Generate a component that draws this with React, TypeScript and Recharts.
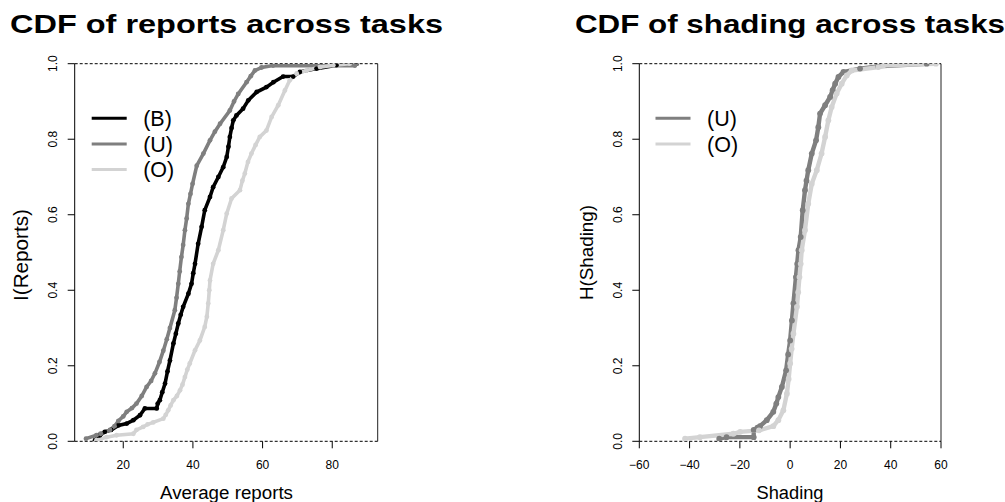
import React from 'react';
import { LineChart, Line, XAxis, YAxis, ReferenceLine } from 'recharts';

// ECDF readings [value, cumulative share] for each group
const reportsB: [number, number][] = [
  [11.9, 0.003], [13.3, 0.016], [14.7, 0.025], [16.5, 0.03], [18.6, 0.042], [21, 0.047],
  [22.9, 0.056], [24.8, 0.069], [26.2, 0.087], [29.6, 0.087], [29.9, 0.1], [30.5, 0.109], [31.2, 0.13],
  [32, 0.153], [32.7, 0.185], [33.4, 0.214], [34.4, 0.259], [35.1, 0.285], [35.8, 0.312],
  [36.5, 0.335], [37.2, 0.356], [38.7, 0.391], [39.6, 0.417], [40.1, 0.445], [40.6, 0.47],
  [41.5, 0.523], [42.5, 0.568], [43.4, 0.612], [44.9, 0.647], [45.8, 0.673], [47.3, 0.7],
  [48.7, 0.726], [49.7, 0.753], [50.2, 0.78], [50.6, 0.806], [51.1, 0.83], [51.6, 0.85],
  [52.5, 0.863], [54.4, 0.881], [55.9, 0.903], [58.3, 0.925], [61.1, 0.938], [63.1, 0.951],
  [65.9, 0.966], [68.8, 0.966], [70.7, 0.978], [75.5, 0.987], [81.2, 0.996], [87, 1.0],
];
const reportsU: [number, number][] = [
  [9.3, 0.007], [12.3, 0.016], [13.5, 0.02], [16.2, 0.03], [17.5, 0.04], [18.6, 0.054],
  [20, 0.066], [21, 0.078], [22.5, 0.088], [23.8, 0.1], [25.3, 0.12], [26.7, 0.144],
  [28, 0.16], [29.1, 0.18], [30.4, 0.21], [31.5, 0.24], [32.5, 0.27], [33.4, 0.3],
  [34.8, 0.347], [35.3, 0.38], [35.8, 0.417], [36.2, 0.45], [36.7, 0.488], [37.2, 0.52],
  [37.7, 0.559], [38.2, 0.59], [38.7, 0.629], [39.3, 0.655], [39.9, 0.682], [41.1, 0.73],
  [43, 0.762], [44.9, 0.797], [46.3, 0.82], [47.8, 0.841], [50.6, 0.876], [51.8, 0.9],
  [53, 0.92], [55.4, 0.951], [56.6, 0.967], [57.8, 0.982], [59.7, 0.99], [63, 0.995],
  [86.5, 0.995], [87, 1.0],
];
const reportsO: [number, number][] = [
  [12.3, 0.003], [15.2, 0.011], [18.1, 0.016], [22.9, 0.02], [23.8, 0.03], [25.7, 0.038],
  [27, 0.045], [28.6, 0.05], [31.5, 0.06], [32.2, 0.07], [32.9, 0.082], [33.6, 0.095],
  [34.4, 0.109], [35.4, 0.12], [36.3, 0.135], [37, 0.15], [37.7, 0.17], [38.4, 0.19],
  [39.1, 0.206], [40.6, 0.241], [42, 0.267], [43.4, 0.303], [44, 0.33], [44.4, 0.365],
  [44.7, 0.4], [44.9, 0.426], [45.8, 0.47], [47.3, 0.506], [48.7, 0.559], [49.7, 0.603],
  [51.1, 0.643], [53.5, 0.665], [54.2, 0.69], [54.9, 0.709], [55.8, 0.74], [56.8, 0.762],
  [58, 0.785], [59.2, 0.806], [61.1, 0.823], [62.6, 0.859], [64.5, 0.89], [66.4, 0.929],
  [67.8, 0.956], [69.8, 0.974], [72.6, 0.982], [76.5, 0.991], [80.3, 0.996], [85, 1.0],
];

const shadingU: [number, number][] = [
  [-28.2, 0.007], [-25.3, 0.011], [-14.5, 0.011], [-14.5, 0.03], [-13, 0.036], [-12, 0.04], [-9.3, 0.056],
  [-6.7, 0.078], [-5.5, 0.1], [-4.7, 0.117], [-3.3, 0.144], [-1.6, 0.188], [-0.8, 0.23],
  [0, 0.267], [0.7, 0.32], [1.3, 0.365], [2.3, 0.435], [2.8, 0.47], [3.3, 0.506],
  [4.2, 0.541], [5, 0.612], [5.9, 0.665], [6.5, 0.69], [7.2, 0.718], [8.6, 0.762],
  [10.3, 0.797], [11.2, 0.832], [11.9, 0.868], [13.9, 0.89], [15.9, 0.912], [16.9, 0.93],
  [17.9, 0.947], [19.2, 0.965], [21.2, 0.978], [27.8, 0.987], [35, 0.993], [54.3, 1.0],
];
const shadingO: [number, number][] = [
  [-41.8, 0.007], [-35.9, 0.011], [-22.6, 0.02], [-19.9, 0.025], [-12.4, 0.029], [-6.7, 0.04],
  [-4.7, 0.056], [-2.7, 0.082], [-1.3, 0.126], [-0.6, 0.165], [0, 0.206], [0.6, 0.245],
  [1.3, 0.285], [2.7, 0.356], [3.2, 0.395], [3.7, 0.435], [4.2, 0.47], [4.6, 0.506],
  [5.9, 0.559], [7.2, 0.629], [8.6, 0.682], [10.6, 0.718], [12.5, 0.762], [13.9, 0.806],
  [15.2, 0.85], [16.5, 0.885], [18.5, 0.921], [20.5, 0.947], [22.5, 0.969], [24.5, 0.982],
  [35.1, 0.991], [37.1, 0.996], [58, 1.0],
];

const yTicks = [0, 0.2, 0.4, 0.6, 0.8, 1];
const reportsTicks = [20, 40, 60, 80];
const shadingTicks = [-60, -40, -20, 0, 20, 40, 60];

const FONT = '"Liberation Sans", Arial, Helvetica, sans-serif';
const BLACK = '#000000';
const MID = '#7f7f7f';
const LIGHT = '#d3d3d3';

const TOP = 63.7;
const BOTTOM = 441.3;
const Y_AXIS_W = 40;
const X_AXIS_H = 30;

type Series = { name: string; color: string; points: [number, number][] };

const toRows = (pts: [number, number][]) => pts.map(([x, y]) => ({ x, y }));

const fmtX = (v: number) => (v < 0 ? `\u2212${Math.abs(v)}` : `${v}`);

const XTick = (props: any) => {
  const { x, payload } = props;
  return (
    <text x={x} y={BOTTOM + 28} textAnchor="middle" fontSize={12} fontFamily={FONT} fill="#000">
      {fmtX(payload.value)}
    </text>
  );
};

const makeYTick = (axisX: number) => (props: any) => {
  const { y, payload } = props;
  const bx = axisX - 17.4;
  return (
    <text
      x={bx}
      y={y}
      transform={`rotate(-90, ${bx}, ${y})`}
      textAnchor="middle"
      fontSize={12}
      fontFamily={FONT}
      fill="#000"
    >
      {payload.value.toFixed(1)}
    </text>
  );
};

interface PanelProps {
  left: number;
  width: number;
  plotLeft: number;
  plotRight: number;
  xDomain: [number, number];
  xTicks: number[];
  series: Series[];
  lineW: number;
  dotR: number;
}

const CdfPanel: React.FC<PanelProps> = ({ left, width, plotLeft, plotRight, xDomain, xTicks, series, lineW, dotR }) => {
  const YTick = makeYTick(plotLeft - left);
  return (
    <div style={{ position: 'absolute', left, top: 0 }}>
      <LineChart
        width={width}
        height={502}
        margin={{
          top: TOP,
          bottom: 502 - BOTTOM - X_AXIS_H,
          left: plotLeft - left - Y_AXIS_W,
          right: left + width - plotRight,
        }}
      >
        <XAxis
          type="number"
          dataKey="x"
          domain={xDomain}
          ticks={xTicks}
          allowDataOverflow
          height={X_AXIS_H}
          axisLine={false}
          tickLine={{ stroke: '#000' }}
          tickSize={7}
          tickMargin={0}
          tick={<XTick />}
          interval={0}
        />
        <YAxis
          type="number"
          domain={[0, 1]}
          ticks={yTicks}
          allowDataOverflow
          width={Y_AXIS_W}
          axisLine={{ stroke: '#000' }}
          tickLine={{ stroke: '#000' }}
          tickSize={7}
          tickMargin={0}
          tick={<YTick />}
          interval={0}
        />
        <ReferenceLine x={xDomain[1]} stroke="#222" strokeWidth={1} />
        {series.map((s, i) => (
          <React.Fragment key={s.name}>
            <Line
              data={toRows(s.points)}
              dataKey="y"
              type="linear"
              stroke={s.color}
              strokeWidth={lineW}
              dot={{ r: dotR, fill: s.color, stroke: 'none', strokeWidth: 0 }}
              activeDot={false}
              isAnimationActive={false}
            />
            {i === 0 && (
              <>
                <ReferenceLine y={0} stroke="#000" strokeDasharray="3 2" strokeWidth={1} />
                <ReferenceLine y={1} stroke="#000" strokeDasharray="3 2" strokeWidth={1} />
              </>
            )}
          </React.Fragment>
        ))}
      </LineChart>
    </div>
  );
};

const Legend: React.FC<{ x: number; y: number; items: Series[] }> = ({ x, y, items }) => (
  <g>
    {items.map((s, i) => {
      const cy = y + i * 25.6;
      return (
        <g key={s.name}>
          <line x1={x} x2={x + 35} y1={cy} y2={cy} stroke={s.color} strokeWidth={3} />
          <text x={x + 51.5} y={cy + 7.7} fontSize={21.5} fontFamily={FONT} fill="#000">
            {s.name}
          </text>
        </g>
      );
    })}
  </g>
);

const reportSeries: Series[] = [
  { name: '(B)', color: BLACK, points: reportsB },
  { name: '(U)', color: MID, points: reportsU },
  { name: '(O)', color: LIGHT, points: reportsO },
];
const shadingSeries: Series[] = [
  { name: '(U)', color: MID, points: shadingU },
  { name: '(O)', color: LIGHT, points: shadingO },
];

export default function App() {
  return (
    <div style={{ position: 'absolute', left: 0, top: 0, width: 1005, height: 502, background: '#fff', overflow: 'hidden' }}>
      <CdfPanel
        left={0}
        width={500}
        plotLeft={74.7}
        plotRight={377.7}
        xDomain={[6.06, 93.05]}
        xTicks={reportsTicks}
        series={reportSeries}
        lineW={3.6}
        dotR={2.4}
      />
      <CdfPanel
        left={500}
        width={505}
        plotLeft={639.3}
        plotRight={941}
        xDomain={[-60, 60]}
        xTicks={shadingTicks}
        series={shadingSeries}
        lineW={4.4}
        dotR={2.9}
      />
      <svg width={1005} height={502} style={{ position: 'absolute', left: 0, top: 0, pointerEvents: 'none' }}>
        <text x={226.5} y={33.3} textAnchor="middle" fontSize={25} fontWeight="bold" fontFamily={FONT}
          textLength={433} lengthAdjust="spacingAndGlyphs">
          CDF of reports across tasks
        </text>
        <text x={790} y={33.3} textAnchor="middle" fontSize={25} fontWeight="bold" fontFamily={FONT}
          textLength={430} lengthAdjust="spacingAndGlyphs">
          CDF of shading across tasks
        </text>
        <text x={226.5} y={499} textAnchor="middle" fontSize={18} fontFamily={FONT}
          textLength={133} lengthAdjust="spacingAndGlyphs">
          Average reports
        </text>
        <text x={790} y={499} textAnchor="middle" fontSize={18} fontFamily={FONT}
          textLength={67} lengthAdjust="spacingAndGlyphs">
          Shading
        </text>
        <text x={28} y={255} transform="rotate(-90, 28, 255)" textAnchor="middle" fontSize={20} fontFamily={FONT}
          textLength={92} lengthAdjust="spacingAndGlyphs">
          I(Reports)
        </text>
        <text x={593} y={252.5} transform="rotate(-90, 593, 252.5)" textAnchor="middle" fontSize={19} fontFamily={FONT}
          textLength={95} lengthAdjust="spacingAndGlyphs">
          H(Shading)
        </text>
        <Legend x={91.7} y={118.3} items={reportSeries} />
        <Legend x={655.5} y={118.3} items={shadingSeries} />
      </svg>
    </div>
  );
}
